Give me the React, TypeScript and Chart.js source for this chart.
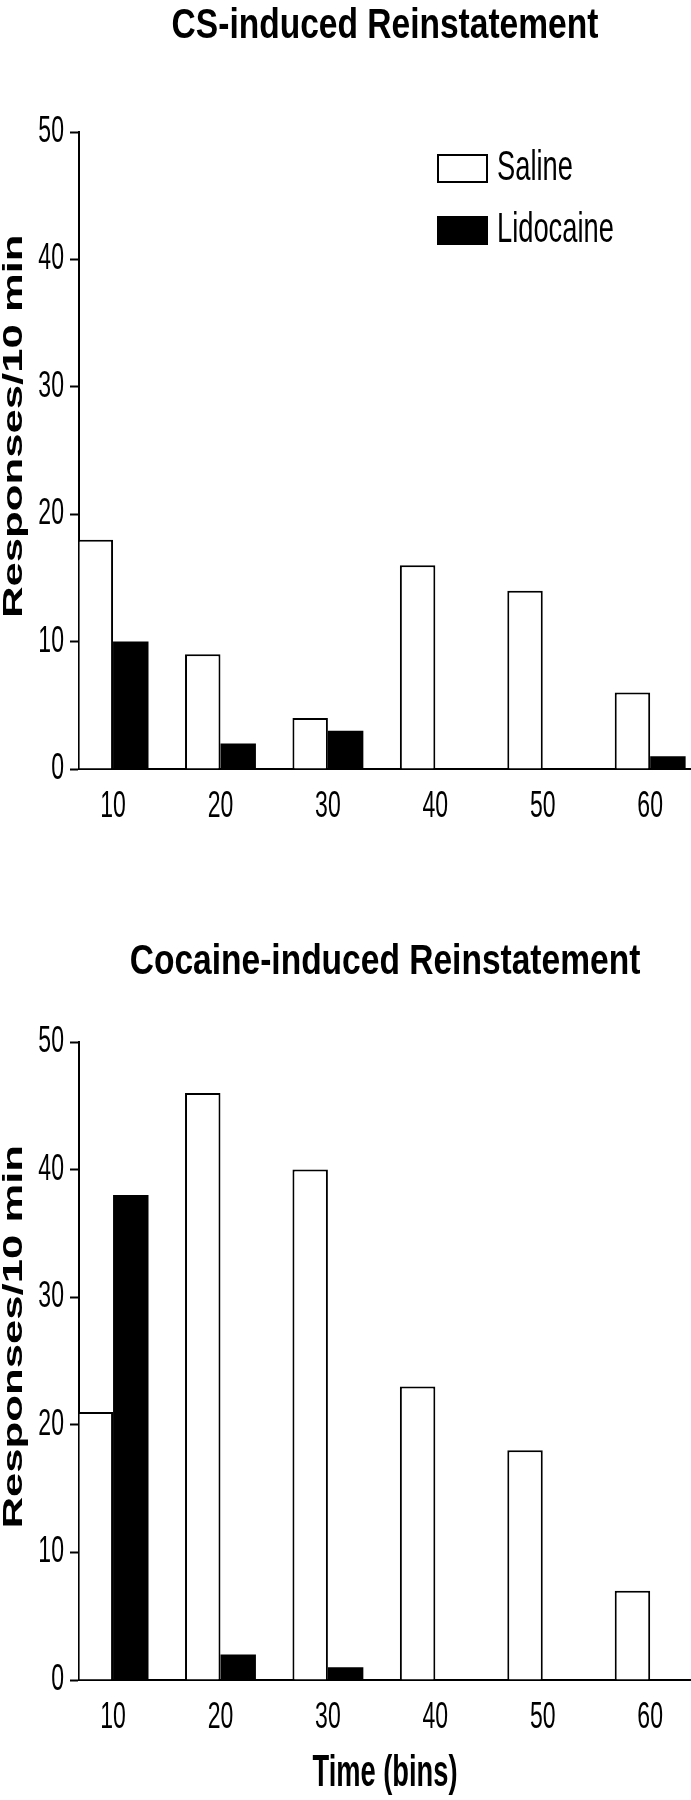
import React, { useEffect, useRef } from "react";
import { Chart, registerables } from "chart.js";

Chart.register(...registerables);

// ---- data ----
const timeBins = [10, 20, 30, 40, 50, 60];
const yTickValues = [0, 10, 20, 30, 40, 50];
const seriesNames = ["Saline", "Lidocaine"];
const csSaline = [18, 9, 4, 16, 14, 6];
const csLidocaine = [10, 2, 3, 0, 0, 1];
const cocaineSaline = [21, 46, 40, 23, 18, 7];
const cocaineLidocaine = [38, 2, 1, 0, 0, 0];
const csTitle = "CS-induced Reinstatement";
const cocaineTitle = "Cocaine-induced Reinstatement";
const yAxisTitle = "Responses/10 min";
const xAxisTitle = "Time (bins)";

// ---- style ----
const FONT = "'Liberation Sans', Arial, Helvetica, sans-serif";
const X_MIN = 6.83;
const X_MAX = 63.8;

// font size (px) -> horizontal scale of the glyphs (the figure's type is condensed)
const SIZE_TICK = 36;
const SIZE_TITLE = 43;
const SIZE_LEGEND = 42;
const SIZE_XTITLE = 44;
const SIZE_YTITLE = 28;
const TEXT_SCALE: Record<string, number> = {
  [SIZE_TICK]: 0.64,
  [SIZE_TITLE]: 0.78,
  [SIZE_LEGEND]: 0.65,
  [SIZE_XTITLE]: 0.62,
  [SIZE_YTITLE]: 1.56,
};

const condensedText = {
  id: "condensedText",
  beforeInit(chart: any) {
    const ctx = chart.ctx;
    if (!ctx || ctx.__condensed) return;
    ctx.__condensed = true;
    const orig = ctx.fillText;
    ctx.fillText = function (this: CanvasRenderingContext2D, text: string, x: number, y: number, maxWidth?: number) {
      const m = /(\d+(?:\.\d+)?)px/.exec(this.font);
      const key = m ? String(Math.round(parseFloat(m[1]))) : "";
      const sx = TEXT_SCALE[key];
      if (!sx || sx === 1) {
        return maxWidth === undefined ? orig.call(this, text, x, y) : orig.call(this, text, x, y, maxWidth);
      }
      this.save();
      this.translate(x, y);
      this.scale(sx, 1);
      orig.call(this, text, 0, 0);
      this.restore();
    };
  },
};

const boxLegend = {
  id: "boxLegend",
  afterDraw(chart: any, _args: any, opts: any) {
    if (!opts || !opts.display) return;
    const ctx = chart.ctx;
    ctx.save();
    chart.data.datasets.forEach((ds: any, i: number) => {
      const x = opts.x;
      const y = opts.y + i * opts.gap;
      ctx.fillStyle = ds.backgroundColor;
      ctx.fillRect(x, y, opts.boxWidth, opts.boxHeight);
      ctx.lineWidth = 2;
      ctx.strokeStyle = "#000";
      ctx.strokeRect(x + 1, y + 1, opts.boxWidth - 2, opts.boxHeight - 2);
      ctx.font = `${SIZE_LEGEND}px ${FONT}`;
      ctx.fillStyle = "#000";
      ctx.textBaseline = "middle";
      ctx.textAlign = "left";
      ctx.fillText(ds.label, x + opts.boxWidth + opts.textGap, y + opts.boxHeight / 2);
    });
    ctx.restore();
  },
};

function makeConfig(p: {
  title: string;
  saline: number[];
  lido: number[];
  titlePadTop: number;
  titlePadBottom: number;
  xAxisHeight: number;
  legend: boolean;
  xTitle: boolean;
}): any {
  return {
    type: "bar",
    data: {
      datasets: [
        {
          label: seriesNames[0],
          data: timeBins.map((x, i) => ({ x, y: p.saline[i] })),
          backgroundColor: "#ffffff",
          borderColor: "#000000",
          borderWidth: 2,
          categoryPercentage: 0.66,
          barPercentage: 1.0,
        },
        {
          label: seriesNames[1],
          data: timeBins.map((x, i) => ({ x, y: p.lido[i] })),
          backgroundColor: "#000000",
          borderColor: "#000000",
          borderWidth: 0,
          categoryPercentage: 0.66,
          barPercentage: 1.0,
        },
      ],
    },
    options: {
      animation: false,
      responsive: false,
      maintainAspectRatio: false,
      layout: { padding: 0 },
      plugins: {
        legend: { display: false },
        tooltip: { enabled: false },
        title: {
          display: true,
          text: p.title,
          fullSize: false,
          color: "#000",
          font: { family: FONT, size: SIZE_TITLE, weight: "bold", lineHeight: 1.2 },
          padding: { top: p.titlePadTop, bottom: p.titlePadBottom },
        },
        boxLegend: {
          display: p.legend,
          x: 437,
          y: 154,
          gap: 62,
          boxWidth: 51,
          boxHeight: 29,
          textGap: 9,
        },
      },
      scales: {
        x: {
          type: "linear",
          min: X_MIN,
          max: X_MAX,
          offset: false,
          afterBuildTicks: (scale: any) => {
            scale.ticks = timeBins.map((v) => ({ value: v }));
          },
          afterFit: (scale: any) => {
            scale.height = p.xAxisHeight;
          },
          grid: { display: true, drawOnChartArea: false, drawTicks: false },
          border: { display: true, color: "#000", width: 2 },
          ticks: {
            color: "#000",
            padding: 16,
            maxRotation: 0,
            autoSkip: false,
            font: { family: FONT, size: SIZE_TICK, lineHeight: 1.2 },
            callback: (v: any) => String(v),
          },
          title: {
            display: p.xTitle,
            text: xAxisTitle,
            color: "#000",
            font: { family: FONT, size: SIZE_XTITLE, weight: "bold", lineHeight: 1.0 },
            padding: { top: 0, bottom: 4.5 },
          },
        },
        y: {
          type: "linear",
          min: yTickValues[0],
          max: yTickValues[yTickValues.length - 1],
          afterBuildTicks: (scale: any) => {
            scale.ticks = yTickValues.map((v) => ({ value: v }));
          },
          afterFit: (scale: any) => {
            scale.width = 79;
          },
          grid: {
            display: true,
            drawOnChartArea: false,
            drawTicks: true,
            tickLength: 9,
            tickColor: "#000",
            tickWidth: 2,
          },
          border: { display: true, color: "#000", width: 2 },
          ticks: {
            color: "#000",
            padding: 6,
            font: { family: FONT, size: SIZE_TICK },
          },
          title: {
            display: true,
            text: "    " + yAxisTitle,
            color: "#000",
            font: { family: FONT, size: SIZE_YTITLE, weight: "bold", lineHeight: 1.02 },
            padding: 0,
          },
        },
      },
    },
    plugins: [condensedText, boxLegend],
  };
}

function BarPanel(props: { config: any; width: number; height: number; top: number }) {
  const ref = useRef<HTMLCanvasElement | null>(null);
  useEffect(() => {
    if (!ref.current) return;
    const chart = new Chart(ref.current, props.config);
    return () => chart.destroy();
  }, []);
  return (
    <canvas
      ref={ref}
      width={props.width}
      height={props.height}
      style={{ position: "absolute", left: 0, top: props.top, width: props.width, height: props.height, display: "block" }}
    />
  );
}

export default function App() {
  const top = makeConfig({
    title: csTitle,
    saline: csSaline,
    lido: csLidocaine,
    titlePadTop: 0,
    titlePadBottom: 80.4,
    xAxisHeight: 111,
    legend: true,
    xTitle: false,
  });
  const bottom = makeConfig({
    title: cocaineTitle,
    saline: cocaineSaline,
    lido: cocaineLidocaine,
    titlePadTop: 56.7,
    titlePadBottom: 53.7,
    xAxisHeight: 120,
    legend: false,
    xTitle: true,
  });
  return (
    <div style={{ position: "absolute", left: 0, top: 0, width: 691, height: 1800, background: "#fff" }}>
      <BarPanel config={top} width={691} height={880} top={0} />
      <BarPanel config={bottom} width={691} height={920} top={880} />
    </div>
  );
}
